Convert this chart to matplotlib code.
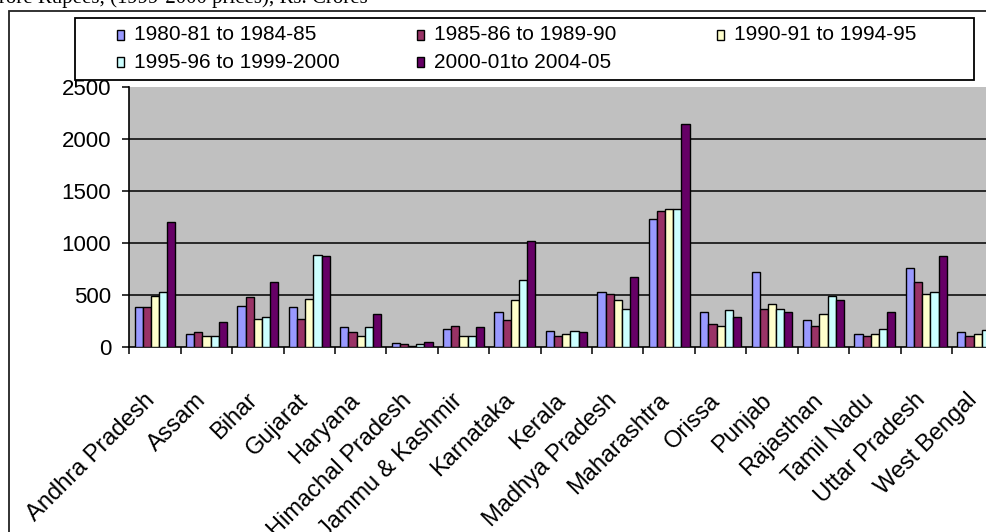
import matplotlib
matplotlib.use("Agg")
import matplotlib.pyplot as plt
from matplotlib.patches import Rectangle
from matplotlib.transforms import ScaledTranslation
import numpy as np

plt.rcParams['font.family'] = ['Liberation Sans', 'DejaVu Sans']

states = ["Andhra Pradesh", "Assam", "Bihar", "Gujarat", "Haryana",
          "Himachal Pradesh", "Jammu & Kashmir", "Karnataka", "Kerala",
          "Madhya Pradesh", "Maharashtra", "Orissa", "Punjab", "Rajasthan",
          "Tamil Nadu", "Uttar Pradesh", "West Bengal"]

periods = ["1980-81 to 1984-85", "1985-86 to 1989-90", "1990-91 to 1994-95",
           "1995-96 to 1999-2000", "2000-01to 2004-05"]

p1980 = [381, 122, 397, 381, 189, 42, 173, 333, 157, 532, 1228, 333, 724, 256, 122, 756, 141]
p1985 = [381, 141, 484, 272, 141, 26, 205, 256, 109, 513, 1308, 221, 369, 205, 109, 628, 109]
p1990 = [494, 106, 272, 465, 109, 10, 106, 449, 125, 449, 1327, 205, 417, 321, 125, 513, 125]
p1995 = [532, 106, 285, 888, 189, 26, 106, 644, 157, 369, 1327, 353, 369, 494, 173, 532, 160]
p2000 = [1200, 237, 628, 872, 317, 45, 189, 1016, 141, 676, 2140, 288, 337, 452, 337, 872, 260]
series = [p1980, p1985, p1990, p1995, p2000]

colors = ["#9999FF", "#993366", "#FFFFCC", "#CCFFFF", "#660066"]
yticks = [0, 500, 1000, 1500, 2000, 2500]

heading_prefix = "Investment in Crore Rupees, "
heading_rest = "(1999-2000 prices), Rs. Crores"

W, H = 987, 532
fig = plt.figure(figsize=(W / 100, H / 100), dpi=100)

def px(x, y):
    return x / W, 1 - y / H

# chart area frame (runs past the right and bottom edges)
x0, y0 = px(9, 11)
fig.patches.append(Rectangle((x0, -0.2), 1.2, y0 + 0.2, transform=fig.transFigure,
                             fill=False, edgecolor="#222222", linewidth=1.3))

# heading line above the chart, placed so the bracket starts at x = 110 px
serif = ["Liberation Serif", "DejaVu Serif"]
renderer = fig.canvas.get_renderer()
probe = fig.text(0, 0, heading_prefix, fontsize=15, family=serif)
prefix_w = probe.get_window_extent(renderer).width
probe.remove()
tx, ty = px(110 - prefix_w, 3.5)
fig.text(tx, ty, heading_prefix + heading_rest, ha="left", va="baseline",
         fontsize=15, family=serif)

# plot area
left, top = 129.3, 87.0
right, bottom = 1003.4, 347.0
ax = fig.add_axes([left / W, 1 - bottom / H, (right - left) / W, (bottom - top) / H])
ax.set_facecolor("#C0C0C0")

n = len(states)
x = np.arange(n)
bw = 0.159
for i, (vals, col) in enumerate(zip(series, colors)):
    ax.bar(x + (i - 2) * bw, vals, width=bw, color=col, edgecolor="black",
           linewidth=1.0, zorder=3)

ax.hlines(yticks[1:-1], -0.5, n - 0.5, colors="black", linewidth=1.1, zorder=2)

ax.set_xlim(-0.5, n - 0.5)
ax.set_ylim(0, 2500)
ax.set_yticks(yticks)
ax.set_yticklabels([str(v) for v in yticks], fontsize=16)
ax.tick_params(axis="y", direction="out", length=5, width=1.1, pad=8, colors="black")

ax.set_xticks(np.arange(n + 1) - 0.5)
ax.set_xticklabels([])
ax.tick_params(axis="x", which="major", direction="out", length=5, width=1.1)
ax.set_xticks(x, minor=True)
ax.set_xticklabels(states, minor=True, rotation=45, ha="right", va="center",
                   rotation_mode="anchor", fontsize=17)
ax.tick_params(axis="x", which="minor", length=0, pad=36)
shift = ScaledTranslation(-0.04, 0.0, fig.dpi_scale_trans)
for lab in ax.get_xticklabels(minor=True):
    lab.set_transform(lab.get_transform() + shift)

for s in ["top", "right"]:
    ax.spines[s].set_visible(False)
for s in ["left", "bottom"]:
    ax.spines[s].set_linewidth(1.2)
    ax.spines[s].set_color("black")

# legend box
lx0, ly0 = px(75, 80)
lx1, ly1 = px(974, 18)
fig.patches.append(Rectangle((lx0, ly0), lx1 - lx0, ly1 - ly0, transform=fig.transFigure,
                             facecolor="white", edgecolor="black", linewidth=1.3))
col_x = [117, 417, 717]
row_y = [35, 62]
for k, (lab, col) in enumerate(zip(periods, colors)):
    cx = col_x[k % 3]
    cy = row_y[k // 3]
    mx, my = px(cx, cy + 5)
    fig.patches.append(Rectangle((mx, my), 7.5 / W, 10 / H, transform=fig.transFigure,
                                 facecolor=col, edgecolor="black", linewidth=1.0))
    tx, ty = px(cx + 17, cy)
    fig.text(tx, ty, lab, ha="left", va="center", fontsize=15)

fig.savefig("out.png", dpi=100)
